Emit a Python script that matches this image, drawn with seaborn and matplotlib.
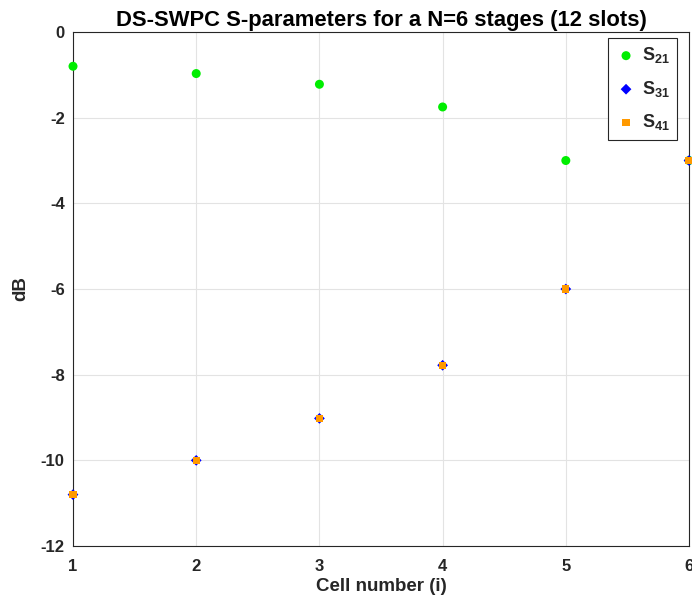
import matplotlib
matplotlib.use("Agg")
import matplotlib.pyplot as plt
import seaborn as sns
import pandas as pd

cells = [1, 2, 3, 4, 5, 6]
s21 = [-0.8, -0.97, -1.22, -1.75, -3.0, -3.0]
s31 = [-10.8, -10.0, -9.02, -7.78, -6.0, -3.0]
s41 = [-10.8, -10.0, -9.02, -7.78, -6.0, -3.0]
xticks = [1, 2, 3, 4, 5, 6]
yticks = [0, -2, -4, -6, -8, -10, -12]

sns.set_style("white")
plt.rcParams['font.family'] = ['Liberation Sans', 'DejaVu Sans']
plt.rcParams['mathtext.fontset'] = 'custom'
plt.rcParams['mathtext.rm'] = 'Liberation Sans:bold'
plt.rcParams['mathtext.bf'] = 'Liberation Sans:bold'
plt.rcParams['mathtext.it'] = 'Liberation Sans:bold'

fig = plt.figure(figsize=(6.92, 6.12), dpi=100)
ax = fig.add_axes([0.1055, 0.1078, 0.8902, 0.8399])

df21 = pd.DataFrame({"x": cells, "y": s21})
df31 = pd.DataFrame({"x": cells, "y": s31})
df41 = pd.DataFrame({"x": cells, "y": s41})

sns.scatterplot(data=df21, x="x", y="y", ax=ax, color="#00ee00", marker="o", s=42,
                edgecolor="none", label=r"$\mathbf{S_{21}}$", clip_on=False, zorder=3)
sns.scatterplot(data=df31, x="x", y="y", ax=ax, color="#0000ff", marker="D", s=30,
                edgecolor="none", label=r"$\mathbf{S_{31}}$", clip_on=False, zorder=4)
sns.scatterplot(data=df41, x="x", y="y", ax=ax, color="#ff9900", marker="s", s=28,
                edgecolor="none", label=r"$\mathbf{S_{41}}$", clip_on=False, zorder=5)

ax.set_xlim(1, 6)
ax.set_ylim(-12, 0)
ax.set_xticks(xticks)
ax.set_yticks(yticks)
ax.set_xticklabels([str(t) for t in xticks], fontsize=12, fontweight='bold', color='#262626')
ax.set_yticklabels([str(t) for t in yticks], fontsize=12, fontweight='bold', color='#262626')
ax.grid(True, color='#e3e3e3', linewidth=0.8)
ax.set_axisbelow(True)
ax.tick_params(direction='in', length=5, width=0.8, color='#262626')
ax.tick_params(axis='x', pad=9)
ax.tick_params(axis='y', pad=6)
for sp in ax.spines.values():
    sp.set_color('#262626')
    sp.set_linewidth(0.8)
    sp.set_visible(True)

ax.set_xlabel("Cell number (i)", fontsize=13.5, fontweight='bold', color='#262626', labelpad=3)
ax.set_ylabel("dB", fontsize=13.5, fontweight='bold', color='#262626', labelpad=8)
ax.set_title("DS-SWPC S-parameters for a N=6 stages (12 slots)", fontsize=15.8,
             fontweight='bold', color='#000000', pad=4)

leg = ax.legend(loc='upper right', bbox_to_anchor=(0.981, 0.988), fontsize=13,
                frameon=True, fancybox=False, edgecolor='#262626', framealpha=1,
                handletextpad=0.3, borderpad=0.4, labelspacing=0.75, handlelength=1.2,
                borderaxespad=0)
leg.get_frame().set_linewidth(0.8)

fig.savefig("out.png", dpi=100)
